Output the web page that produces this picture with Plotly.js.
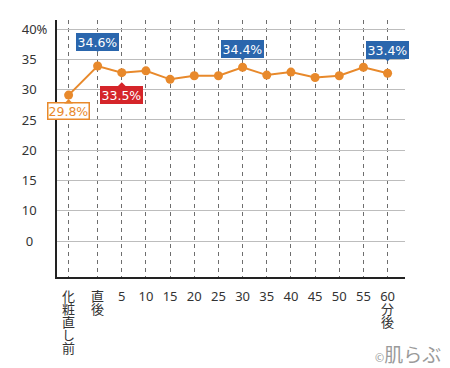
<!DOCTYPE html>
<html><head><meta charset="utf-8">
<script src="https://cdn.plot.ly/plotly-3.0.1.min.js"></script>
<style>html,body{margin:0;padding:0;background:#fff}#chart{width:450px;height:368px}</style>
</head><body><div id="chart"></div>
<script>
// ---- data ----
const xLabels = ['化粧直し前','直後','5','10','15','20','25','30','35','40','45','50','55','60分後'];
const xMinutes = [-6,0,5,10,15,20,25,30,35,40,45,50,55,60];
const moisture = [29.8,34.6,33.5,33.8,32.4,33.0,33.0,34.4,33.1,33.6,32.7,33.0,34.4,33.4];
const yTickValues = [40,35,30,25,20,15,10,5];
const yTickLabels = ['40%','35','30','25','20','15','10','0'];
const calloutIndex = [0,1,2,7,13];

// ---- styles ----
const ORANGE = '#E8892B', BLUE = '#2A66AD', RED = '#D5252A';
const FONT = 'Noto Sans, Noto Sans CJK JP, sans-serif';
const Y_OFFSET = 0.7;
const HIDE = '<span style="color:rgba(0,0,0,0)">';

function stackLabel(label) {
  return label.match(/\d+|./g)
    .map(t => '<span style="font-size:13px">' + t + '</span>')
    .join('<br>');
}
// left-align y labels: pad with invisible characters to the width of "40%"
function yLabel(t) {
  if (t.endsWith('%')) return t;
  if (t.length === 1) return t + HIDE + '.%</span>';
  return t + HIDE + '%</span>';
}

const calloutStyle = [
  {bg:'#ffffff', border:ORANGE, color:ORANGE, ay:16, standoff:4},
  {bg:BLUE, border:BLUE, color:'#ffffff', ay:-24, standoff:14},
  {bg:RED, border:RED, color:'#ffffff', ay:22, standoff:9.5},
  {bg:BLUE, border:BLUE, color:'#ffffff', ay:-18, standoff:7},
  {bg:BLUE, border:BLUE, color:'#ffffff', ay:-23, standoff:12}
];

const annotations = calloutIndex.map((idx, k) => {
  const s = calloutStyle[k];
  return {
    x: xMinutes[idx], y: moisture[idx], xref:'x', yref:'y',
    text: moisture[idx].toFixed(1) + '%',
    showarrow:true, ax:0, ay:s.ay, standoff:s.standoff,
    arrowhead:1, arrowsize:1.2, arrowwidth:1.2, arrowcolor:s.border,
    bgcolor: s.bg, bordercolor: s.border, borderwidth: 1.5, borderpad: 0,
    font:{family:'DejaVu Sans', size:12.5, color:s.color}
  };
});
annotations.push({
  xref:'paper', yref:'paper', x:1.11, y:-0.305, xanchor:'right', yanchor:'middle',
  text:'<span style="font-size:11px">©</span>肌らぶ', showarrow:false,
  font:{family:FONT, size:19, color:'#9a9a9a'}
});

const trace = {
  x: xMinutes, y: moisture, type:'scatter', mode:'lines+markers',
  line:{color:ORANGE, width:2}, marker:{color:ORANGE, size:9},
  hoverinfo:'skip', cliponaxis:false
};

const layout = {
  width:450, height:368,
  margin:{l:57, r:45, t:20, b:91},
  paper_bgcolor:'#ffffff', plot_bgcolor:'#ffffff',
  showlegend:false,
  font:{family:FONT, color:'#333'},
  xaxis:{
    range:[-8.4, 63.6], tickmode:'array', tickvals:xMinutes,
    ticktext:xLabels.map(stackLabel),
    showgrid:true, gridcolor:'#6e6e6e', gridwidth:1, griddash:'4px,4px',
    zeroline:false, showline:true, linecolor:'#222', linewidth:2,
    ticks:'', tickfont:{size:10, family:FONT, color:'#333'}, ticklabelstandoff:10
  },
  yaxis:{
    range:[-0.21, 42.19], tickmode:'array',
    tickvals:yTickValues.map(v => v + Y_OFFSET), ticktext:yTickLabels.map(yLabel),
    showgrid:true, gridcolor:'#bdbdbd', gridwidth:1,
    zeroline:false, showline:true, linecolor:'#222', linewidth:2,
    ticks:'', tickfont:{size:13, family:FONT, color:'#333'},
    ticklabelstandoff:5
  },
  annotations: annotations
};

Plotly.newPlot('chart', [trace], layout, {displayModeBar:false, staticPlot:true});
</script>
</body></html>
